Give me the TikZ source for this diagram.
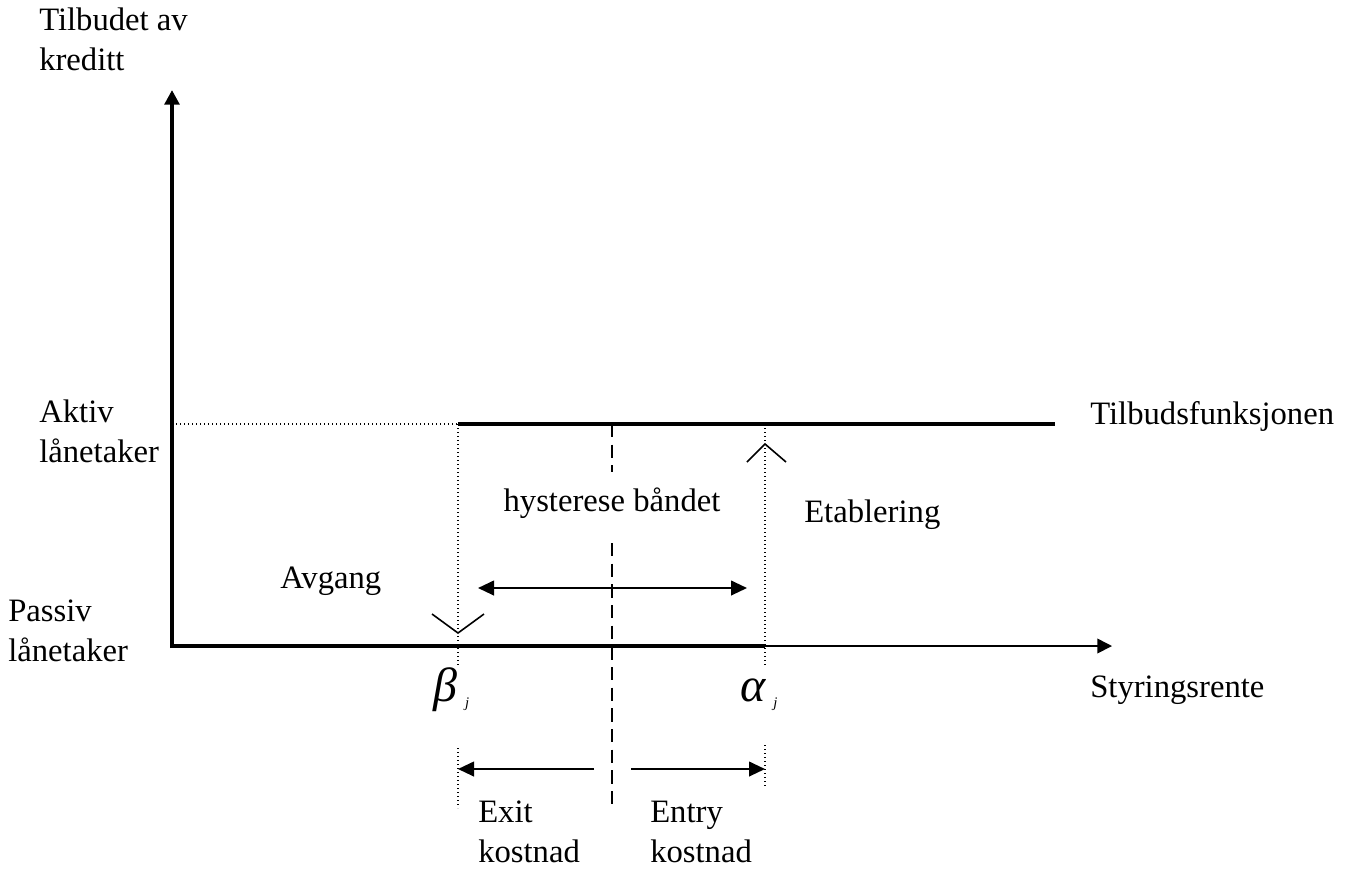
\documentclass[tikz,border=0pt]{standalone}
\usepackage{fontspec}
\setmainfont{Liberation Serif}
\usetikzlibrary{arrows.meta}

\begin{document}
\begin{tikzpicture}[
  x=0.75pt, y=-0.75pt,
  every node/.style = {font=\fontsize{24.5}{30}\selectfont, inner sep=0pt},
  lbl/.style      = {anchor=west, align=left},
  greek/.style    = {anchor=base west, font=\fontsize{36}{36}\selectfont\itshape},
  axis/.style     = {line width=3pt, -{Triangle[length=11pt, width=11pt]}},
  thickline/.style= {line width=3pt},
  thinline/.style = {line width=1.2pt},
  guide/.style    = {dotted, line width=1pt},
  midline/.style  = {line width=1.5pt, dash pattern=on 10pt off 5.5pt},
  caret/.style    = {line width=1.2pt},
  arrow/.style    = {line width=1.5pt, -{Triangle[length=12pt, width=11pt]}},
  dblarrow/.style = {line width=1.5pt, {Triangle[length=12pt, width=11pt]}-{Triangle[length=12pt, width=11pt]}}
]
\useasboundingbox (0,0) rectangle (1348,869);

% Coordinates
\coordinate (origin) at (172,646);
\coordinate (ytip)   at (172,90);
\coordinate (xtip)   at (1112,646);
\coordinate (beta0)  at (458,646);
\coordinate (alpha0) at (765,646);
\coordinate (beta1)  at (458,424);
\coordinate (alpha1) at (765,424);
\coordinate (aktiv)  at (172,424);
\coordinate (supend) at (1055,424);

% Axes
\draw[thinline, -{Triangle[length=11pt, width=11pt]}] (alpha0) -- (xtip);
\draw[thickline] (origin) -- (alpha0);
\draw[axis] ([yshift=-1.5pt]origin) -- (ytip);

% Supply function
\draw[guide] (aktiv) -- (beta1);
\draw[thickline] (beta1) -- (supend);

% Vertical guides
\draw[guide] (beta1) -- ++(0,241);
\draw[guide] (alpha1) -- ++(0,241);
\draw[guide] (458,748) coordinate (betalow) -- ++(0,60);
\draw[guide] (765,745) coordinate (alphalow) -- ++(0,43);

% Middle dashed line
\draw[midline] (612,424) -- (612,472);
\draw[midline] (612,543) -- (612,808);

% Carets
\draw[caret] (432,614) -- (beta0 |- 0,633) -- (484,614);
\draw[caret] (747,462) -- (alpha1 |- 0,444) -- (786,462);

% Arrows
\draw[dblarrow] (478,588) -- (747,588);
\draw[arrow] (594,769) -- (beta0 |- 0,769);
\draw[arrow] (631,769) -- (alpha0 |- 0,769);

% Labels
\node[lbl] (ylab)    at (39,39)    {Tilbudet av\\kreditt};
\node[lbl] (aktivl)  at (39,431)   {Aktiv\\lånetaker};
\node[lbl] (passivl) at (8,631)    {Passiv\\lånetaker};
\node[lbl] (supl)    at (1090,416) {Tilbudsfunksjonen};
\node[lbl] (xlab)    at (1090,690) {Styringsrente};
\node[lbl] (avgang)  at (280,581)  {Avgang};
\node      (band)    at (612,503)  {hysterese båndet};
\node[lbl] (etab)    at (804,515)  {Etablering};
\node[greek] (betal)  at (433,701) {β\kern6pt\raisebox{-5pt}{\fontsize{11}{11}\selectfont j}};
\node[greek] (alphal) at (740,701) {α\kern6pt\raisebox{-5pt}{\fontsize{11}{11}\selectfont j}};
\node[lbl] (exitl)  at (478,832) {Exit\\kostnad};
\node[lbl] (entryl) at (650,832) {Entry\\kostnad};
\end{tikzpicture}
\end{document}
